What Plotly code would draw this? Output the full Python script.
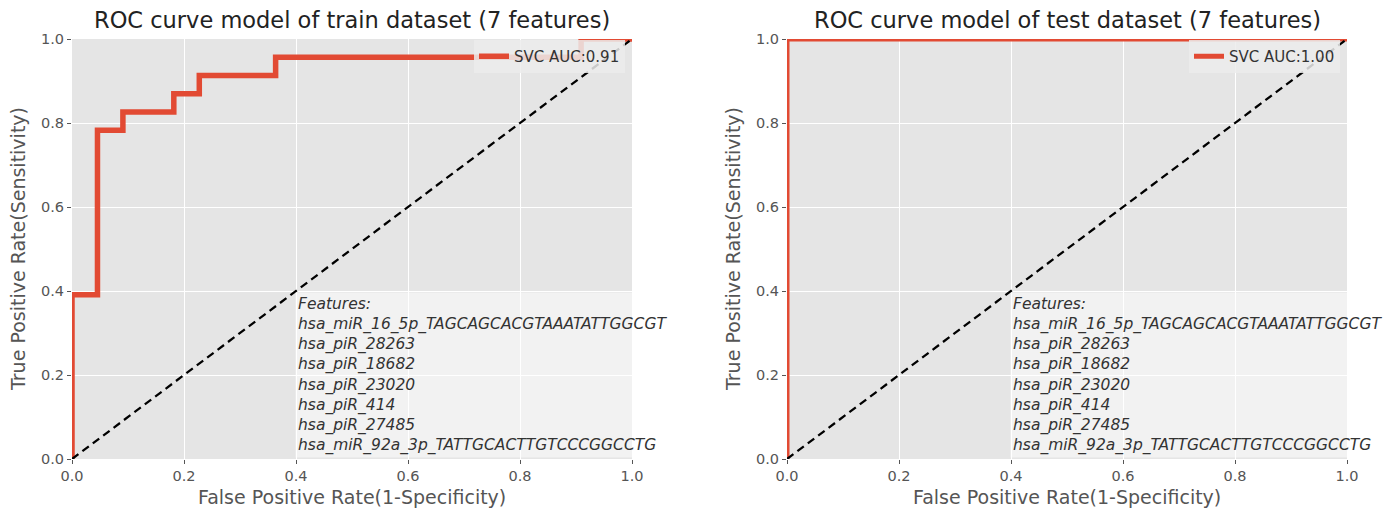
import plotly.graph_objects as go

# ---- data ----
train_fpr = [0.0, 0.0, 0.0455, 0.0455, 0.0909, 0.0909, 0.1818, 0.1818, 0.2273, 0.2273, 0.3636, 0.3636, 0.9091, 0.9091, 1.0]
train_tpr = [0.0, 0.3913, 0.3913, 0.7826, 0.7826, 0.8261, 0.8261, 0.8696, 0.8696, 0.9130, 0.9130, 0.9565, 0.9565, 1.0, 1.0]
test_fpr = [0.0, 0.0, 1.0]
test_tpr = [0.0, 1.0, 1.0]
diag = [0.0, 1.0]
train_label = "SVC AUC:0.91"
test_label = "SVC AUC:1.00"
titles = ["ROC curve model of train dataset (7 features)", "ROC curve model of test dataset (7 features)"]
features = [
    "hsa_miR_16_5p_TAGCAGCACGTAAATATTGGCGT",
    "hsa_piR_28263",
    "hsa_piR_18682",
    "hsa_piR_23020",
    "hsa_piR_414",
    "hsa_piR_27485",
    "hsa_miR_92a_3p_TATTGCACTTGTCCCGGCCTG",
]
tick_vals = [0.0, 0.2, 0.4, 0.6, 0.8, 1.0]
tick_text = ["0.0", "0.2", "0.4", "0.6", "0.8", "1.0"]
x_label = "False Positive Rate(1-Specificity)"
y_label = "True Positive Rate(Sensitivity)"

W, H = 1397, 511
RED = "#E24A33"
FONT = "DejaVu Sans"
GRAY = "#555555"

# pixel frame of the two axes
L, R, T, B = 72, 1347, 39, 459
PW, PH = R - L, B - T
ax_px = [(72, 632), (787, 1347)]


def px_x(p):
    return (p - L) / PW


def px_y(p):
    return (B - p) / PH


x1 = [px_x(ax_px[0][0]), px_x(ax_px[0][1])]
x2 = [px_x(ax_px[1][0]), px_x(ax_px[1][1])]

fig = go.Figure()

fig.add_trace(go.Scatter(x=train_fpr, y=train_tpr, mode="lines", name=train_label,
                         line=dict(color=RED, width=5.5), xaxis="x", yaxis="y", legend="legend"))
fig.add_trace(go.Scatter(x=diag, y=diag, mode="lines", showlegend=False,
                         line=dict(color="black", width=2.3, dash="8px,5px"), xaxis="x", yaxis="y"))
fig.add_trace(go.Scatter(x=test_fpr, y=test_tpr, mode="lines", name=test_label,
                         line=dict(color=RED, width=5), xaxis="x2", yaxis="y2", legend="legend2"))
fig.add_trace(go.Scatter(x=diag, y=diag, mode="lines", showlegend=False,
                         line=dict(color="black", width=2.3, dash="8px,5px"), xaxis="x2", yaxis="y2"))

axis_common = dict(range=[0, 1], tickvals=tick_vals, ticktext=tick_text, showgrid=True,
                   gridcolor="white", gridwidth=1, zeroline=False, showline=False,
                   ticks="outside", ticklen=4, tickcolor=GRAY, automargin=False,
                   tickfont=dict(family=FONT, size=14.5, color=GRAY))

fig.update_layout(
    width=W, height=H,
    margin=dict(l=L, r=W - R, t=T, b=H - B, autoexpand=False),
    paper_bgcolor="white",
    plot_bgcolor="#E5E5E5",
    font=dict(family=FONT, color="#333333"),
    xaxis=dict(domain=x1, anchor="y", **axis_common),
    yaxis=dict(domain=[0, 1], anchor="x", **axis_common),
    xaxis2=dict(domain=x2, anchor="y2", **axis_common),
    yaxis2=dict(domain=[0, 1], anchor="x2", **axis_common),
    legend=dict(x=px_x(625), y=px_y(40), xanchor="right", yanchor="top",
                bgcolor="rgba(236,236,236,0.85)", font=dict(family=FONT, size=15, color="#333333")),
    legend2=dict(x=px_x(1340), y=px_y(40), xanchor="right", yanchor="top",
                 bgcolor="rgba(236,236,236,0.85)", font=dict(family=FONT, size=15, color="#333333")),
)

# the gap between the two axes stays white
fig.add_shape(type="rect", xref="paper", yref="paper", x0=x1[1], x1=x2[0], y0=0, y1=1,
              fillcolor="white", line=dict(width=0), layer="below")

for xd, t, (a, b) in zip([x1, x2], titles, ax_px):
    cx = (a + b) / 2
    fig.add_annotation(x=px_x(cx), y=px_y(20), xref="paper", yref="paper",
                       text=t, showarrow=False, xanchor="center", yanchor="middle",
                       font=dict(family=FONT, size=22.5, color="#222222"))
    fig.add_annotation(x=px_x(cx), y=px_y(497), xref="paper", yref="paper",
                       text=x_label, showarrow=False, xanchor="center", yanchor="middle",
                       font=dict(family=FONT, size=19, color=GRAY))
    fig.add_annotation(x=px_x(a - 54), y=px_y(249), xref="paper", yref="paper",
                       text=y_label, showarrow=False, xanchor="center", yanchor="middle",
                       textangle=-90, font=dict(family=FONT, size=19, color=GRAY))

feat_text = "<br>".join(["Features:"] + features)
for xr, yr in [("x", "y"), ("x2", "y2")]:
    fig.add_annotation(x=0.398, y=0.398, xref=xr, yref=yr, text=feat_text, showarrow=False,
                       xanchor="left", yanchor="top", align="left",
                       bgcolor="rgba(255,255,255,0.5)", borderpad=2,
                       font=dict(family=FONT, size=15.5, color="#333333", style="italic"))

fig.write_html("out.html", config={"displayModeBar": False},
               post_script="document.body.style.margin='0';")
